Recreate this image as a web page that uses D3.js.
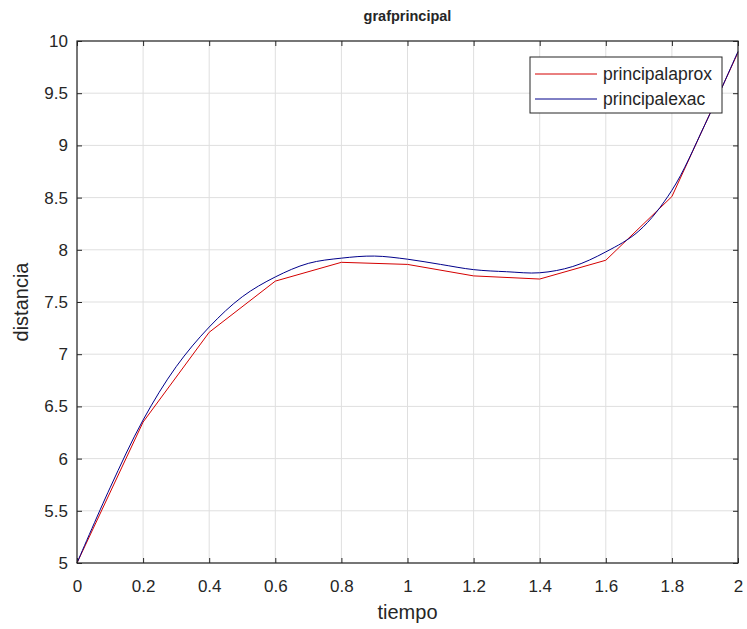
<!DOCTYPE html>
<html lang="en">
<head>
  <meta charset="UTF-8">
  <title>grafprincipal</title>
  <script src="https://d3js.org/d3.v7.min.js"></script>
  <style>
    body { margin: 0; background: #fff; }
    text { font-family: "Liberation Sans", Arial, sans-serif; fill: #262626; }
  </style>
</head>
<body>
  <svg id="chart" width="747" height="629"></svg>
  <script>
    // approximate solution, step 0.2
    const tApprox = [0, 0.2, 0.4, 0.6, 0.8, 1.0, 1.2, 1.4, 1.6, 1.8, 2.0];
    const yApprox = [5, 6.35, 7.21, 7.70, 7.88, 7.86, 7.75, 7.72, 7.90, 8.51, 9.89];
    // exact solution, read every 0.1
    const tExact = [0, 0.1, 0.2, 0.3, 0.4, 0.5, 0.6, 0.7, 0.8, 0.9, 1.0, 1.1, 1.2, 1.3, 1.4, 1.5, 1.6, 1.7, 1.8, 1.9, 2.0];
    const yExact = [5, 5.72, 6.37, 6.88, 7.26, 7.55, 7.74, 7.87, 7.92, 7.94, 7.91, 7.86, 7.81, 7.79, 7.78, 7.84, 7.98, 8.18, 8.57, 9.20, 9.90];
    const xTicks = [0, 0.2, 0.4, 0.6, 0.8, 1, 1.2, 1.4, 1.6, 1.8, 2];
    const yTicks = [5, 5.5, 6, 6.5, 7, 7.5, 8, 8.5, 9, 9.5, 10];
    const seriesNames = ["principalaprox", "principalexac"];
    const seriesColors = ["#d40000", "#00008a"];

    const svg = d3.select("#chart");
    const margin = { top: 41, right: 9, bottom: 66, left: 77 };
    const w = 747 - margin.left - margin.right;
    const h = 629 - margin.top - margin.bottom;
    const g = svg.append("g").attr("transform", `translate(${margin.left},${margin.top})`);

    const x = d3.scaleLinear().domain([0, 2]).range([0, w]);
    const y = d3.scaleLinear().domain([5, 10]).range([h, 0]);

    // grid
    g.append("g").selectAll("line").data(xTicks).join("line")
      .attr("x1", d => x(d)).attr("x2", d => x(d)).attr("y1", 0).attr("y2", h)
      .attr("stroke", "#dfdfdf").attr("stroke-width", 1);
    g.append("g").selectAll("line").data(yTicks).join("line")
      .attr("x1", 0).attr("x2", w).attr("y1", d => y(d)).attr("y2", d => y(d))
      .attr("stroke", "#dfdfdf").attr("stroke-width", 1);

    // lines
    const data = [
      tApprox.map((t, i) => [t, yApprox[i]]),
      tExact.map((t, i) => [t, yExact[i]])
    ];
    const lineLin = d3.line().x(d => x(d[0])).y(d => y(d[1]));
    const lineSmooth = d3.line().x(d => x(d[0])).y(d => y(d[1])).curve(d3.curveCatmullRom.alpha(0.5));
    g.append("path").attr("d", lineLin(data[0])).attr("fill", "none")
      .attr("stroke", seriesColors[0]).attr("stroke-width", 1);
    g.append("path").attr("d", lineSmooth(data[1])).attr("fill", "none")
      .attr("stroke", seriesColors[1]).attr("stroke-width", 1);

    // axes (inward ticks, box)
    const fmt = d => String(d);
    const bottomAxis = d3.axisBottom(x).tickValues(xTicks).tickSize(-5).tickPadding(17).tickFormat(fmt);
    const topAxis = d3.axisTop(x).tickValues(xTicks).tickSize(-5).tickFormat("");
    const leftAxis = d3.axisLeft(y).tickValues(yTicks).tickSize(-5).tickPadding(9).tickFormat(fmt);
    const rightAxis = d3.axisRight(y).tickValues(yTicks).tickSize(-5).tickFormat("");

    const axStyle = sel => {
      sel.selectAll("path,line").attr("stroke", "#262626");
      sel.selectAll("text").attr("font-size", 17).attr("fill", "#262626")
        .style("font-family", "'Liberation Sans', Arial, sans-serif");
    };
    g.append("g").attr("transform", `translate(0,${h})`).call(bottomAxis).call(axStyle);
    g.append("g").call(topAxis).call(axStyle);
    g.append("g").call(leftAxis).call(axStyle);
    g.append("g").attr("transform", `translate(${w},0)`).call(rightAxis).call(axStyle);
    g.selectAll(".domain").attr("d", null);
    g.append("rect").attr("width", w).attr("height", h).attr("fill", "none")
      .attr("stroke", "#262626").attr("stroke-width", 1.2);

    // labels
    svg.append("text").attr("x", margin.left + w / 2).attr("y", 21)
      .attr("text-anchor", "middle").attr("font-size", 14.5).attr("font-weight", "bold")
      .attr("fill", "#000").text("grafprincipal");
    svg.append("text").attr("x", margin.left + w / 2).attr("y", 619)
      .attr("text-anchor", "middle").attr("font-size", 20).text("tiempo");
    svg.append("text").attr("transform", `translate(28,${margin.top + h / 2}) rotate(-90)`)
      .attr("text-anchor", "middle").attr("font-size", 20).text("distancia");

    // legend
    const lg = svg.append("g").attr("transform", "translate(530,57)");
    lg.append("rect").attr("width", 192).attr("height", 56).attr("fill", "#fff")
      .attr("stroke", "#262626").attr("stroke-width", 1);
    seriesNames.forEach((name, i) => {
      const yy = 17 + i * 25;
      lg.append("line").attr("x1", 5).attr("x2", 67).attr("y1", yy).attr("y2", yy)
        .attr("stroke", seriesColors[i]).attr("stroke-width", 1);
      lg.append("text").attr("x", 73).attr("y", yy + 6).attr("font-size", 17.5)
        .attr("fill", "#000").text(name);
    });
  </script>
</body>
</html>
